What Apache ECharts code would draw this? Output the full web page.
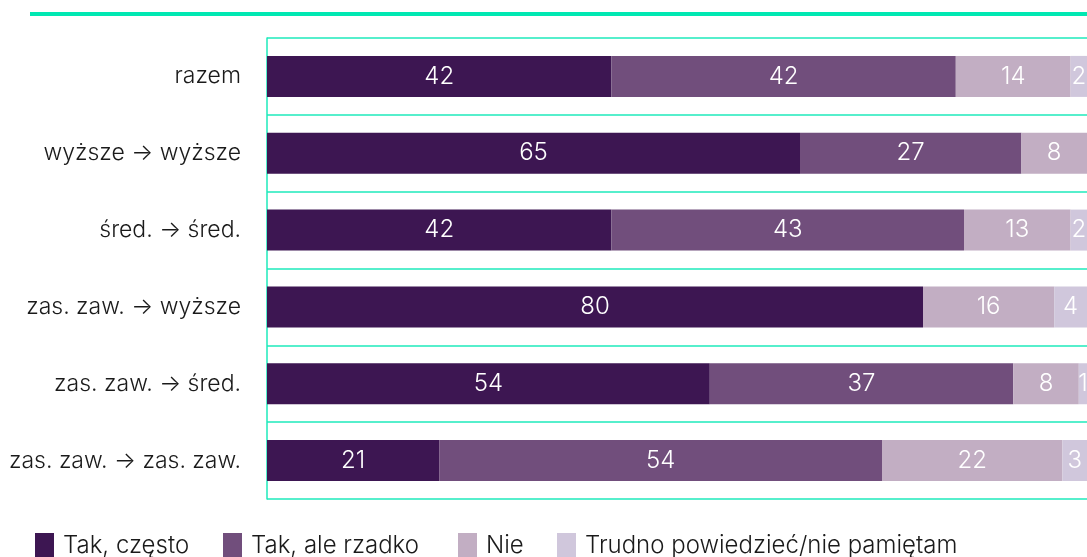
<!DOCTYPE html>
<html>
<head>
<meta charset="utf-8">
<script src="https://cdn.jsdelivr.net/npm/echarts@6/dist/echarts.min.js"></script>
<style>
html,body{margin:0;padding:0;background:#fff;}
#chart{width:1087px;height:557px;}
</style>
</head>
<body>
<div id="chart"></div>
<script>
const categories = ['razem', 'wyższe → wyższe', 'śred. → śred.', 'zas. zaw. → wyższe', 'zas. zaw. → śred.', 'zas. zaw. → zas. zaw.'];
const seriesNames = ['Tak, często', 'Tak, ale rzadko', 'Nie', 'Trudno powiedzieć/nie pamiętam'];
const takCzesto = [42, 65, 42, 80, 54, 21];
const takRzadko = [42, 27, 43, null, 37, 54];
const nie = [14, 8, 13, 16, 8, 22];
const trudno = [2, null, 2, 4, 1, 3];
const colors = ['#3d1652', '#714e7c', '#c2aec3', '#d0c7dc'];

const FONT = 'Inter';
const seriesData = [takCzesto, takRzadko, nie, trudno];
const legendLefts = [30, 218, 453, 552];

const chart = echarts.init(document.getElementById('chart'), null, {renderer: 'canvas'});
chart.setOption({
  animation: false,
  textStyle: {fontFamily: FONT},
  graphic: [{
    type: 'rect',
    shape: {x: 30, y: 12, width: 1070, height: 4},
    style: {fill: '#00e8b2'}
  }],
  legend: seriesNames.map((name, i) => ({
    left: legendLefts[i],
    top: 528,
    itemWidth: 19,
    itemHeight: 26,
    icon: 'rect',
    textStyle: {fontFamily: FONT, fontSize: 24, fontWeight: 300, color: '#1a1a1a', padding: [8, 0, 0, 4]},
    data: [name]
  })),
  grid: {left: 267, top: 38, width: 825, height: 461, containLabel: false},
  xAxis: {
    type: 'value', min: 0, max: 100,
    show: false
  },
  yAxis: {
    type: 'category',
    inverse: true,
    data: categories,
    axisLine: {show: true, lineStyle: {color: '#1eeabb', width: 1.5}},
    axisTick: {show: false},
    splitLine: {show: true, lineStyle: {color: '#1eeabb', width: 1.5}},
    axisLabel: {fontFamily: FONT, fontSize: 23, fontWeight: 300, color: '#1a1a1a', margin: 26}
  },
  series: seriesNames.map((name, i) => ({
    name: name,
    type: 'bar',
    stack: 'all',
    barWidth: 41,
    itemStyle: {color: colors[i]},
    label: {
      show: true,
      position: 'inside',
      color: '#ffffff',
      fontFamily: FONT,
      fontSize: 24,
      fontWeight: 300
    },
    data: seriesData[i]
  }))
});
</script>
</body>
</html>
